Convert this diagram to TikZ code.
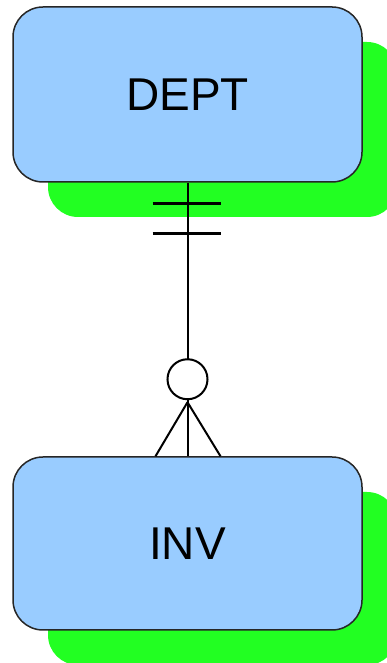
\documentclass[tikz,border=0pt]{standalone}
\usepackage{fontspec}
\setmainfont{Liberation Sans}
\usetikzlibrary{shadows,calc}
\definecolor{boxblue}{HTML}{99CCFF}
\definecolor{shadowgreen}{HTML}{22FF22}
\begin{document}
\begin{tikzpicture}[x=1pt,y=1pt,
  entity/.style={draw=black!85, line width=1.5pt, fill=boxblue, rounded corners=30pt,
    minimum width=349pt, font=\fontsize{46}{50}\selectfont,
    drop shadow={shadow xshift=35pt, shadow yshift=-35pt, fill=shadowgreen, opacity=1}},
  rel/.style={line width=2pt, black}]
\useasboundingbox (0,0) rectangle (387,663);
\node[entity, minimum height=175pt] (dept) at (187.5,568.5) {DEPT};
\node[entity, minimum height=173pt] (inv) at (187.5,119.5) {INV};
% one-and-only-one end
\coordinate (b1) at ($(dept.south)+(0,-21)$);
\coordinate (b2) at ($(dept.south)+(0,-51)$);
% zero-or-many end
\coordinate (cc) at ($(inv.north)+(0,77)$);
\coordinate (apex) at ($(inv.north)+(0,54)$);
\draw[rel] (dept.south) -- ($(cc)+(0,20)$);
\draw[rel, line width=2.6pt] ($(b1)+(-35,0)$) -- ($(b1)+(33,0)$);
\draw[rel, line width=2.6pt] ($(b2)+(-35,0)$) -- ($(b2)+(33,0)$);
\node[draw, line width=2pt, fill=white, circle, minimum size=40pt, inner sep=0pt] (circ) at (cc) {};
\draw[rel] (circ.south) -- (inv.north);
\draw[rel] (apex) -- ($(inv.north)+(-32,0)$);
\draw[rel] (apex) -- ($(inv.north)+(33,0)$);
\end{tikzpicture}
\end{document}
